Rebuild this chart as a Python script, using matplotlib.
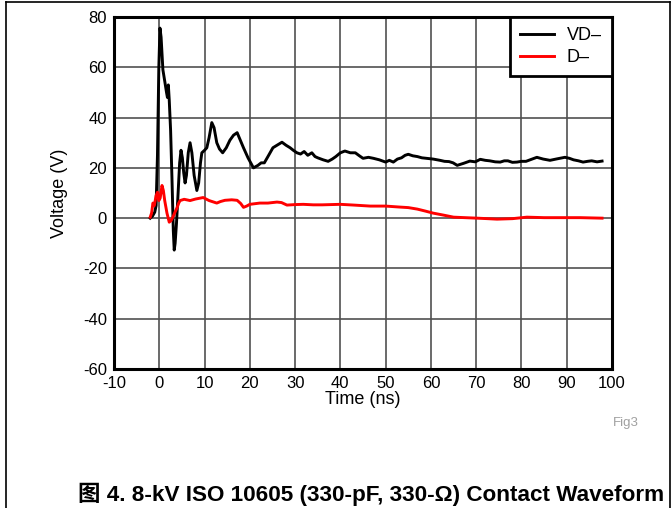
import matplotlib
matplotlib.use("Agg")
import matplotlib.pyplot as plt
from matplotlib.lines import Line2D

plt.rcParams['font.family'] = ['Liberation Sans', 'Noto Sans CJK SC', 'DejaVu Sans']
plt.rcParams['axes.unicode_minus'] = False

# VD- trace (time ns, voltage V)
vd_t = [-2.0, -1.5, -1.0, -0.7, -0.4, -0.1, 0.15, 0.4, 0.8, 1.25, 1.6, 1.8, 2.0, 2.2,
        2.5, 2.8, 3.1, 3.3, 3.5, 3.8, 4.1, 4.5, 4.8, 5.1, 5.4, 5.7, 6.0, 6.4, 6.8, 7.2,
        7.7, 8.3, 8.7, 9.1, 9.4, 10.0, 10.5, 11.0, 11.6, 12.1, 12.7, 13.3, 14.0, 14.8,
        15.6, 16.4, 17.2, 17.9, 18.6, 19.6, 20.8, 21.8, 22.5, 23.2, 24.0, 25.1, 26.0,
        27.1, 28.0, 28.9, 29.6, 30.4, 31.2, 32.0, 32.8, 33.7, 34.4, 35.0, 36.2, 37.3,
        38.2, 39.0, 40.0, 41.0, 42.2, 43.3, 44.2, 45.0, 46.2, 47.3, 48.6, 50.0, 50.8,
        51.7, 52.6, 53.5, 54.3, 55.0, 56.0, 57.0, 58.0, 59.0, 60.5, 62.0, 63.0, 64.0,
        64.9, 65.8, 67.2, 68.6, 69.8, 70.9, 72.0, 73.0, 74.2, 75.3, 76.2, 77.0, 78.0,
        79.0, 80.0, 81.0, 82.2, 83.4, 84.8, 86.3, 87.9, 89.6, 90.6, 91.5, 92.6, 93.6,
        94.6, 95.5, 96.7, 97.8]
vd_v = [0.0, 0.8, 2.4, 5.0, 25.0, 60.0, 75.6, 72.0, 59.0, 54.0, 50.0, 48.0, 53.0,
        47.0, 35.0, 16.0, -5.0, -12.7, -10.0, -2.0, 8.0, 22.0, 27.0, 24.0, 18.0, 14.0,
        17.0, 26.0, 30.0, 26.0, 17.0, 11.0, 14.0, 22.0, 26.0, 27.0, 28.0, 32.0, 38.0,
        36.0, 30.0, 27.5, 26.0, 28.0, 31.0, 33.0, 34.0, 31.0, 28.0, 24.0, 20.0, 21.0,
        22.0, 22.0, 24.5, 28.0, 29.0, 30.2, 29.0, 28.0, 27.0, 26.0, 25.5, 26.5, 25.0,
        26.0, 24.5, 24.0, 23.2, 22.6, 23.5, 24.5, 26.0, 26.7, 26.0, 26.0, 24.8, 23.8,
        24.2, 23.8, 23.2, 22.3, 23.0, 22.3, 23.5, 24.0, 25.0, 25.4, 24.8, 24.5, 24.0,
        23.8, 23.5, 23.0, 22.6, 22.5, 22.0, 21.0, 21.8, 22.7, 22.4, 23.4, 23.0, 22.8,
        22.4, 22.3, 22.8, 22.8, 22.2, 22.3, 22.6, 22.6, 23.4, 24.2, 23.5, 23.0, 23.6,
        24.2, 23.8, 23.2, 22.8, 22.3, 22.6, 22.8, 22.4, 22.7]

# D- trace
d_t = [-2.0, -1.7, -1.4, -1.1, -0.7, -0.4, -0.1, 0.2, 0.6, 0.9, 1.2, 1.7, 2.2, 2.6,
       3.0, 3.5, 3.9, 4.3, 4.6, 5.5, 6.8, 8.0, 9.7, 11.0, 12.7, 13.5, 14.5, 16.0, 17.2,
       18.0, 18.6, 19.3, 20.0, 22.2, 24.0, 26.0, 27.0, 28.2, 30.0, 31.8, 34.0, 36.0,
       38.0, 40.0, 43.0, 46.6, 50.0, 53.2, 55.0, 57.0, 58.8, 60.5, 62.8, 65.0, 67.5,
       70.2, 72.5, 74.6, 78.0, 81.2, 85.0, 88.5, 93.0, 97.8]
d_v = [0.4, 2.0, 6.0, 5.0, 9.0, 10.3, 7.0, 8.0, 13.0, 11.0, 7.0, 2.0, -1.6, -1.0,
       0.4, 2.5, 4.0, 6.0, 7.0, 7.5, 7.0, 7.6, 8.2, 7.0, 6.0, 6.6, 7.1, 7.3, 7.1, 5.8,
       4.3, 4.8, 5.5, 6.0, 6.0, 6.4, 6.2, 5.2, 5.4, 5.5, 5.3, 5.3, 5.4, 5.5, 5.2, 4.8,
       4.8, 4.4, 4.2, 3.6, 2.8, 2.0, 1.2, 0.4, 0.2, 0.0, -0.2, -0.4, -0.2, 0.4, 0.2,
       0.2, 0.2, 0.0]

x_ticks = [-10, 0, 10, 20, 30, 40, 50, 60, 70, 80, 90, 100]
y_ticks = [-60, -40, -20, 0, 20, 40, 60, 80]

fig = plt.figure(figsize=(6.71, 5.08), dpi=100)
ax = fig.add_axes([0.1699, 0.2736, 0.7422, 0.6929])

ax.plot(vd_t, vd_v, color='black', lw=2.1, label='VD\u2013')
ax.plot(d_t, d_v, color='#ff0000', lw=2.1, label='D\u2013')

ax.set_xlim(-10, 100)
ax.set_ylim(-60, 80)
ax.set_xticks(x_ticks)
ax.set_yticks(y_ticks)
ax.grid(True, color='#505050', lw=1.2)
ax.set_axisbelow(True)
ax.tick_params(length=0, labelsize=12, pad=5)
for s in ax.spines.values():
    s.set_linewidth(2.2)

ax.set_xlabel('Time (ns)', fontsize=13, labelpad=0)
ax.set_ylabel('Voltage (V)', fontsize=13, labelpad=11)

leg = ax.legend(loc='upper right', fontsize=13, frameon=True, fancybox=False,
                borderaxespad=0, handlelength=1.9, handletextpad=0.7,
                labelspacing=0.3, borderpad=0.55)
leg.get_frame().set_edgecolor('black')
leg.get_frame().set_linewidth(2.0)
leg.get_frame().set_alpha(1)

fig.text(626 / 671, 1 - 423 / 508, 'Fig3', color='#a0a0a0', fontsize=9.5,
         ha='center', va='center')
fig.text(371 / 671, 1 - 494 / 508,
         '\u56fe 4. 8-kV ISO 10605 (330-pF, 330-\u03a9) Contact Waveform',
         fontsize=16.2, fontweight='bold', ha='center', va='center')

# outer frame
fig.add_artist(Line2D([6 / 671, 6 / 671], [0, 1 - 2 / 508], transform=fig.transFigure,
                      color='black', lw=1.2))
fig.add_artist(Line2D([6 / 671, 670 / 671], [1 - 2 / 508, 1 - 2 / 508],
                      transform=fig.transFigure, color='black', lw=1.2))
fig.add_artist(Line2D([670 / 671, 670 / 671], [0, 1 - 2 / 508], transform=fig.transFigure,
                      color='black', lw=1.2))

fig.savefig('out.png', dpi=100)
